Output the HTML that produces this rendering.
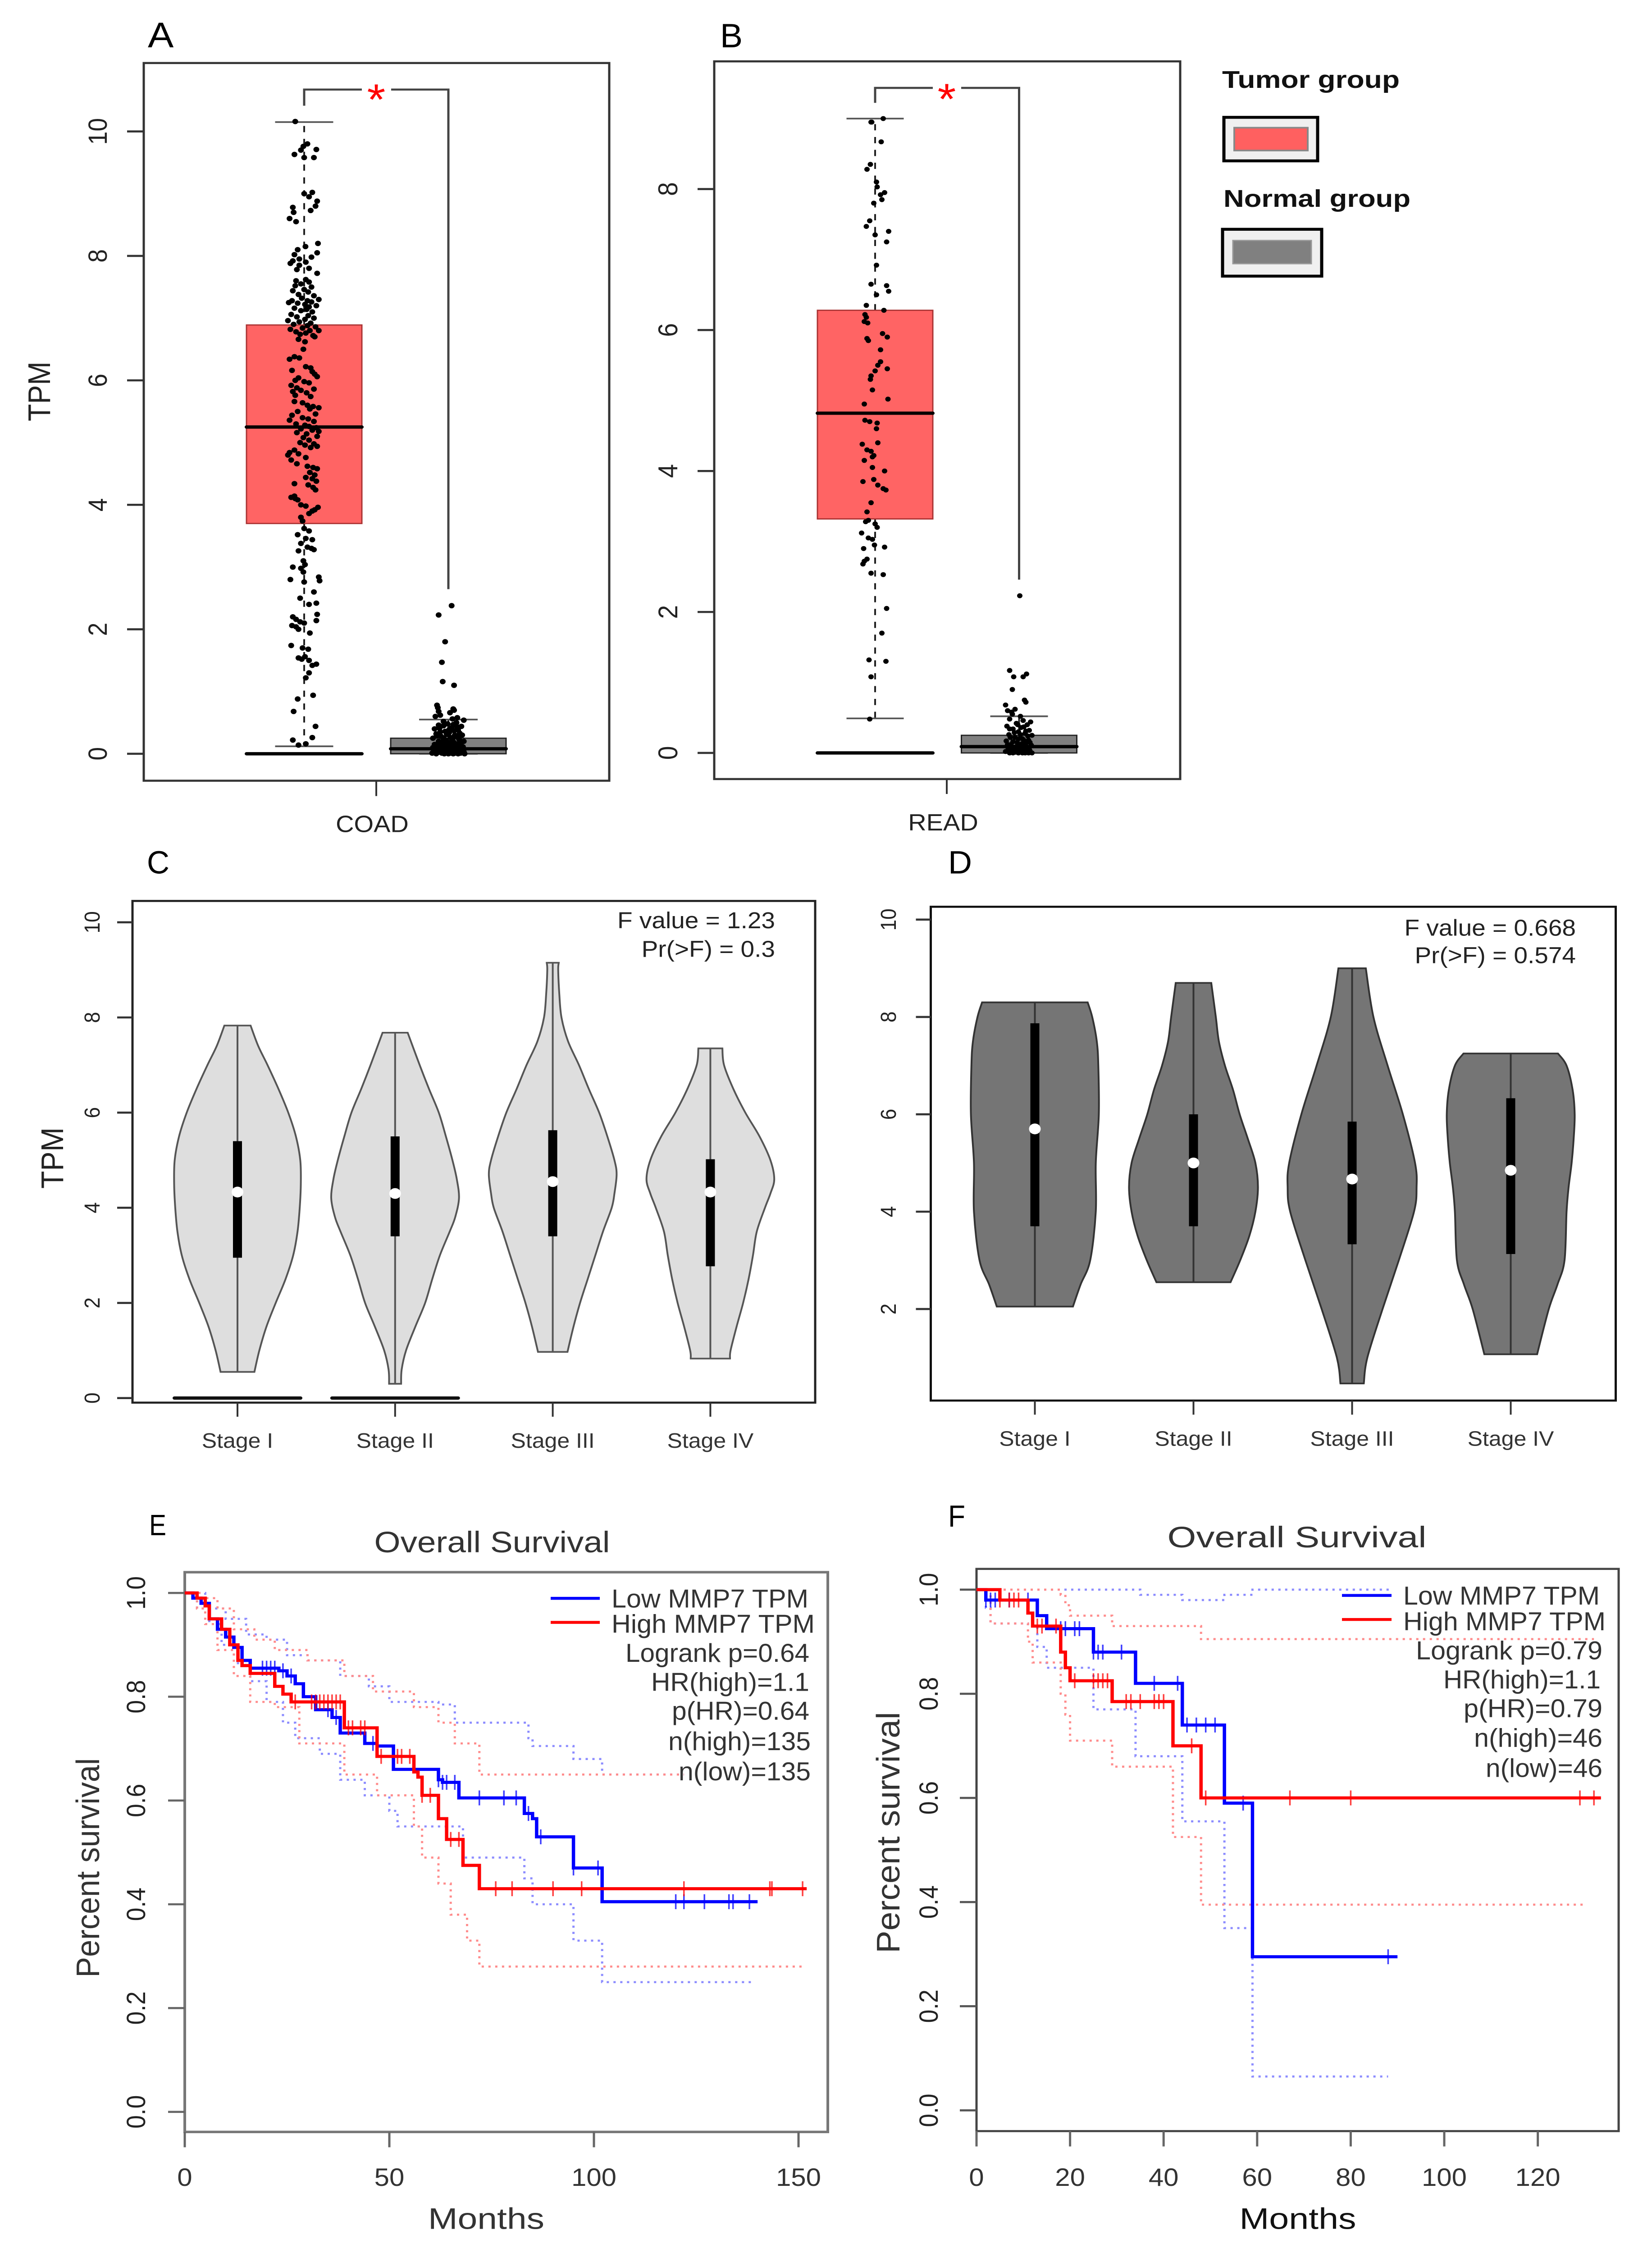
<!DOCTYPE html>
<html lang="en">
<head>
<meta charset="utf-8">
<title>MMP7 expression and survival figure</title>
<style>
html,body{margin:0;padding:0;background:#fff;width:100%;height:100%;overflow:hidden}
svg{display:block;width:100vw;height:100vh}
text{font-family:"Liberation Sans",Arial,sans-serif;fill:#222}
.tpm{font-size:70px}
.stage{font-size:50px;text-anchor:middle;fill:#333}
.fval{font-size:55px;text-anchor:end;fill:#222}
.leg{font-size:62px;fill:#333}
.letter{fill:#000}
.title{font-size:72px;fill:#333;text-anchor:middle}
.axt{font-size:72px;fill:#333;text-anchor:middle}
.group{font-size:58px;font-weight:bold;fill:#111}
</style>
</head>
<body>
<svg id="figure" viewBox="0 0 3666 5434" preserveAspectRatio="none">
<rect x="0" y="0" width="3666" height="5434" fill="#fff"/>

<!-- PANEL A -->
<g id="panel-a">
  <text class="letter" x="328" y="114" font-size="86">A</text>
  <rect x="319" y="152" width="1033" height="1731" fill="#fff" stroke="#333" stroke-width="5"/>
  <text class="tpm" transform="translate(111,944) rotate(-90)" text-anchor="middle" font-size="68" textLength="144" lengthAdjust="spacingAndGlyphs">TPM</text>
  <path d="M675 255V216H803" fill="none" stroke="#444" stroke-width="5"/>
  <path d="M868 216H995V1421" fill="none" stroke="#444" stroke-width="5"/>
  <text x="835" y="276" font-size="105" text-anchor="middle" style="fill:#ff0000">*</text>
  <line x1="835" y1="1883" x2="835" y2="1920" stroke="#333" stroke-width="4"/>
  <text x="826" y="2007" font-size="56" text-anchor="middle" style="fill:#222">COAD</text>
</g>

<!-- PANEL B -->
<g id="panel-b">
  <text class="letter" x="1598" y="114" font-size="82" textLength="50" lengthAdjust="spacingAndGlyphs">B</text>
  <rect x="1585" y="148" width="1034" height="1731" fill="#fff" stroke="#333" stroke-width="5"/>
  <path d="M1942 248V212H2070" fill="none" stroke="#444" stroke-width="5"/>
  <path d="M2133 212H2261.500V1398" fill="none" stroke="#444" stroke-width="5"/>
  <text x="2101" y="275" font-size="105" text-anchor="middle" style="fill:#ff0000">*</text>
  <line x1="2101" y1="1879" x2="2101" y2="1915" stroke="#333" stroke-width="4"/>
  <text x="2093" y="2003" font-size="56" text-anchor="middle" style="fill:#222">READ</text>
</g>

<!-- GROUP LEGEND -->
<g id="group-legend">
  <text class="group" x="2712" y="212" textLength="394" lengthAdjust="spacingAndGlyphs">Tumor group</text>
  <rect x="2716" y="283" width="208" height="105" fill="#f0f0f0" stroke="#000" stroke-width="7"/>
  <rect x="2739" y="308" width="163" height="55" fill="#ff6060" stroke="#888" stroke-width="4"/>
  <text class="group" x="2715" y="499" textLength="415" lengthAdjust="spacingAndGlyphs">Normal group</text>
  <rect x="2713" y="553" width="220" height="113" fill="#f0f0f0" stroke="#000" stroke-width="7"/>
  <rect x="2736" y="580" width="174" height="56" fill="#808080" stroke="#999" stroke-width="3"/>
</g>

<!-- PANEL C -->
<g id="panel-c">
  <text class="letter" x="326" y="2107" font-size="78" textLength="50" lengthAdjust="spacingAndGlyphs">C</text>
  <rect x="294" y="2173" width="1515" height="1210" fill="#fff" stroke="#222" stroke-width="5"/>
  <text class="tpm" transform="translate(140,2793) rotate(-90)" text-anchor="middle" textLength="148" lengthAdjust="spacingAndGlyphs">TPM</text>
  <text class="fval" x="1720" y="2239">F value = 1.23</text>
  <text class="fval" x="1720" y="2308">Pr(&gt;F) = 0.3</text>
</g>

<!-- PANEL D -->
<g id="panel-d">
  <text class="letter" x="2104" y="2107" font-size="78" textLength="53" lengthAdjust="spacingAndGlyphs">D</text>
  <rect x="2065.500" y="2187" width="1520" height="1191" fill="#fff" stroke="#111" stroke-width="5"/>
  <text class="fval" x="3497" y="2257">F value = 0.668</text>
  <text class="fval" x="3497" y="2323">Pr(&gt;F) = 0.574</text>
</g>

<!-- PANEL E -->
<g id="panel-e">
  <text class="letter" x="331" y="3703" font-size="71" textLength="38" lengthAdjust="spacingAndGlyphs">E</text>
  <text class="title" x="1092" y="3744" textLength="523" lengthAdjust="spacingAndGlyphs">Overall Survival</text>
  <rect x="410" y="3792" width="1427" height="1350" fill="#fff" stroke="#777" stroke-width="6"/>
  <text class="axt" transform="translate(220,4505) rotate(-90)" textLength="529" lengthAdjust="spacingAndGlyphs">Percent survival</text>
  <text class="axt" x="1079" y="5376" textLength="258" lengthAdjust="spacingAndGlyphs">Months</text>
</g>

<!-- PANEL F -->
<g id="panel-f">
  <text class="letter" x="2104" y="3682" font-size="74" textLength="38" lengthAdjust="spacingAndGlyphs">F</text>
  <text class="title" x="2878" y="3732" font-size="78" textLength="575" lengthAdjust="spacingAndGlyphs">Overall Survival</text>
  <rect x="2167" y="3784" width="1425" height="1356" fill="#fff" stroke="#444" stroke-width="5"/>
  <text class="axt" transform="translate(1996,4420) rotate(-90)" textLength="582" lengthAdjust="spacingAndGlyphs">Percent survival</text>
  <text class="axt" x="2880" y="5376" textLength="259" lengthAdjust="spacingAndGlyphs" style="fill:#111">Months</text>
</g>

<!-- SURVIVAL LEGENDS drawn on top -->
<g id="legend-e">
  <line x1="1222" y1="3855" x2="1331" y2="3855" stroke="#0000ff" stroke-width="7"/>
  <line x1="1222" y1="3913" x2="1331" y2="3913" stroke="#ff0000" stroke-width="7"/>
  <text class="leg" x="1357" y="3877" textLength="437" lengthAdjust="spacingAndGlyphs">Low MMP7 TPM</text>
  <text class="leg" x="1357" y="3938" textLength="451" lengthAdjust="spacingAndGlyphs">High MMP7 TPM</text>
  <text class="leg" x="1388" y="4008" textLength="408" lengthAdjust="spacingAndGlyphs">Logrank p=0.64</text>
  <text class="leg" x="1445" y="4078" textLength="351" lengthAdjust="spacingAndGlyphs">HR(high)=1.1</text>
  <text class="leg" x="1491" y="4148" textLength="305" lengthAdjust="spacingAndGlyphs">p(HR)=0.64</text>
  <text class="leg" x="1483" y="4221" textLength="316" lengthAdjust="spacingAndGlyphs">n(high)=135</text>
  <text class="leg" x="1506" y="4294" textLength="293" lengthAdjust="spacingAndGlyphs">n(low)=135</text>
</g>
<g id="legend-f">
  <line x1="2978" y1="3848" x2="3088" y2="3848" stroke="#0000ff" stroke-width="7"/>
  <line x1="2978" y1="3906" x2="3088" y2="3906" stroke="#ff0000" stroke-width="7"/>
  <text class="leg" x="3114" y="3870" textLength="436" lengthAdjust="spacingAndGlyphs">Low MMP7 TPM</text>
  <text class="leg" x="3114" y="3932" textLength="449" lengthAdjust="spacingAndGlyphs">High MMP7 TPM</text>
  <text class="leg" x="3142" y="4002" textLength="414" lengthAdjust="spacingAndGlyphs">Logrank p=0.79</text>
  <text class="leg" x="3203" y="4072" textLength="349" lengthAdjust="spacingAndGlyphs">HR(high)=1.1</text>
  <text class="leg" x="3248" y="4142" textLength="308" lengthAdjust="spacingAndGlyphs">p(HR)=0.79</text>
  <text class="leg" x="3271" y="4213" textLength="285" lengthAdjust="spacingAndGlyphs">n(high)=46</text>
  <text class="leg" x="3297" y="4286" textLength="259" lengthAdjust="spacingAndGlyphs">n(low)=46</text>
</g>
</svg>

<script>
/* ---------- BOX PLOT DATA: [low, q1, median, q3, high] ---------- */
const coadTumorStats = [0.12, 3.7, 5.25, 6.89, 10.15];
const coadNormalStats = [0, 0, 0.08, 0.25, 0.55];
const readTumorStats = [0.49, 3.32, 4.82, 6.28, 9.0];
const readNormalStats = [0, 0, 0.09, 0.25, 0.52];
const zeroStats = [0, 0, 0, 0, 0];
const aTicks = [0, 2, 4, 6, 8, 10];
const bTicks = [0, 2, 4, 6, 8];

/* [value, horizontal jitter -1..1] */
const coadTumorPoints = [[10.16,-.55],[9.8,.2],[9.76,-.05],[9.71,.75],[9.7,-.2],[9.63,-.6],[9.58,0],[9.58,.6],[9.02,.5],[9,0],[8.95,.3],[8.88,.8],[8.8,.7],[8.78,-.7],[8.73,.4],[8.7,-.65],[8.6,-.9],[8.55,-.5],
[8.2,.85],[8.15,.08],[8.1,-.4],[8.05,.8],[8.02,-.6],[7.98,.45],[7.95,-.3],[7.92,-.7],[7.9,.1],[7.88,-.85],[7.85,-.3],[7.8,.3],[7.78,-.45],[7.72,.8],[7.62,.1],[7.6,-.5],[7.58,.3],[7.55,-.2],[7.52,-.55],[7.5,.45],[7.46,0],[7.44,-.7],[7.42,.25],[7.38,-.35],[7.36,.6],
[7.32,-.15],[7.3,.9],[7.28,.2],[7.28,-.75],[7.26,.45],[7.25,-.95],[7.24,-.4],[7.22,.05],[7.2,.75],[7.18,.3],[7.16,-.6],[7.14,.15],[7.12,-.2],[7.1,.5],[7.06,-.8],[7.04,.25],[7.02,-.45],[7,.6],[6.98,.05],[6.96,-1],[6.94,-.3],[6.92,.4],[6.9,-.65],[6.88,.2],[6.86,.7],[6.84,-.1],[6.82,-.85],[6.8,.35],[6.8,.9],[6.78,-.5],[6.76,.1],[6.74,-.25],[6.72,.55],[6.7,.65],[6.66,-.35],[6.62,.05],
[6.5,-.05],[6.38,-.6],[6.36,-.3],[6.34,-.9],[6.22,.1],[6.2,.4],[6.16,-.75],[6.14,.5],[6.1,.65],[6.06,.8],[6.04,-.35],[6,-.55],[5.98,0],[5.96,.3],[5.92,-.8],[5.88,-.45],[5.86,.6],[5.84,-.2],[5.82,-.7],[5.8,.15],[5.76,-.55],[5.74,.4],[5.66,-.6],[5.64,-.1],[5.6,.2],[5.58,.55],[5.56,.9],[5.54,.35],[5.5,-.4],[5.46,.7],[5.44,-.75],[5.4,-.1],[5.38,.25],[5.36,-.9],[5.34,.6],[5.3,-.5],[5.28,.05],[5.26,.3],[5.24,.75],[5.22,-.2],[5.2,.5],[5.18,.9],[5.16,-.45],[5.14,.15],[5.1,.8],[5.08,-.05],[5.04,.3],[5,-.25],[4.98,.6],[4.96,.05],[4.94,.8],[4.92,.4],[4.88,-.6],[4.84,-.9],[4.82,-.35],[4.8,-1],[4.76,.1],[4.72,-.8],[4.66,-.45],[4.62,.2],[4.6,.55],[4.58,.8],[4.52,.35],[4.48,.65],[4.44,.1],[4.42,.5],[4.38,.75],[4.34,-.6],[4.32,.25],[4.28,.55],[4.24,.7],[4.14,-.6],[4.12,-.8],[4.1,-.55],[4.08,-.4],[4,-.2],[3.98,.1],[3.96,.85],[3.92,.65],[3.9,.5],[3.86,.3],[3.8,-.2],[3.74,-.1],
[3.62,0],[3.58,.3],[3.52,-.4],[3.46,.1],[3.44,.5],[3.38,-.2],[3.32,.2],[3.3,.45],[3.28,.6],[3.26,-.35],[3.1,-.05],[3.04,.05],[3,-.7],[2.98,-.2],[2.92,-.05],[2.84,.9],[2.8,-.85],[2.78,.95],[2.76,0],[2.6,.6],[2.5,-.25],[2.42,.75],[2.4,.3],[2.24,.8],[2.2,-.7],[2.16,-.5],[2.14,.75],[2.12,-.25],[2.1,0],[2.06,-.75],[2.04,-.5],[2,-.35],[1.94,.35],[1.74,-.8],[1.7,-.1],[1.68,.25],[1.56,.05],[1.54,-.35],[1.52,-.15],[1.5,.3],[1.44,.75],[1.42,.5],[1.3,.3],[1.22,.1],[.94,.55],[.88,-.4],[.68,-.65],[.44,.7],[.26,.5],[.22,-.7],[.16,.1],[.14,-.35]];

const coadNormalPoints = [[2.38,.2],[2.23,-.6],[1.8,-.2],[1.47,-.4],[1.16,-.35],[1.1,.35],[.78,-.7],[.74,-.65],[.72,.3],[.7,.35],[.68,-.6],[.66,.1],[.62,-.5],[.6,-.8],[.58,.55],[.56,.25],[.54,.95],[.52,-.3],[.5,.5],[.48,-.05],[.46,-.6],[.44,.8],[.42,.2],[.4,-.85],[.38,.6],[.36,-.2],[.34,.05],[.32,-.75],[.3,.4],[.3,.85],[.28,-.45],[.26,.15],[.25,-.95],[.24,.65],[.22,-.15],[.2,.95],[.2,-.6],[.18,.35],[.17,-.3],[.16,.75],[.15,-.85],[.14,.05],[.13,.5],[.12,-.5],[.11,.9],[.1,-.1],[.1,-.95],[.09,.3],[.08,.65],[.07,-.7],[.07,.1],[.06,-.3],[.05,.85],[.05,.45],[.04,-.55],[.04,-.9],[.03,.2],[.03,.7],[.02,-.2],[.02,-.65],[.02,.95],[.01,.4],[.01,-.4],[.01,-1],[0,0],[0,.6],[0,-.75],[0,.3],[0,1],[0,-.25],
[.47,.3],[.45,-.3],[.43,.55],[.41,-.55],[.39,.05],[.37,.35],[.35,-.5],[.33,.7],[.31,-.1],[.29,-.7],[.27,.55],[.25,-.3],[.23,.25],[.21,.7],[.19,-.45],[.18,.05],[.16,-.15],[.15,.55],[.14,-.6],[.13,.8],[.12,.2],[.11,-.3],[.1,.45],[.09,-.8],[.08,-.05],[.08,.85],[.07,.4],[.06,-.55],[.06,.15],[.05,-.25],[.05,-.75],[.04,.55],[.04,.1],[.03,-.4],[.03,.95],[.02,.35],[.02,-.05],[.01,-.75],[.01,.75],[.01,.15]];

const readTumorPoints = [[9,.6],[8.95,-.3],[8.95,-.25],[8.67,.45],[8.35,-.35],[8.28,-.6],[8.1,.1],[8.03,.15],[7.95,.7],[7.92,.4],[7.85,.5],[7.8,-.1],[7.55,-.4],[7.47,-.65],[7.4,1],[7.35,0],[7.25,.85],[6.92,.1],[6.65,-.3],[6.63,.85],[6.55,1],[6.5,.1],[6.35,-.65],[6.28,.65],[6.22,-.75],[6.18,-.65],[6.12,-.8],[6.1,-.55],[5.95,.55],[5.9,.9],[5.88,-.6],[5.85,-.5],[5.72,.4],[5.55,.4],[5.5,.2],[5.45,.9],[5.42,0],[5.35,-.3],[5.3,-.35],[5.15,-.2],[5.02,.95],[4.95,-.8],[4.72,-.75],[4.7,-.4],[4.68,.15],[4.6,.1],[4.4,.2],[4.38,-.95],[4.3,-.6],[4.28,-.3],[4.22,-.1],[4.2,-.2],[4.15,-.8],[4.05,-.2],[4,.7],[3.88,-.1],[3.85,-.9],[3.8,.2],[3.75,.6],[3.73,.8],[3.55,-.3],[3.42,-.6],[3.3,-.5],[3.28,-.7],[3.25,0],[3.2,.15],[3.12,-1],[3.05,-.5],[3.03,-.2],[2.95,-.05],[2.92,.7],[2.9,-.85],[2.75,-.6],[2.72,-.8],[2.68,-.9],[2.55,-.3],[2.53,.6],[2.05,.85],[1.7,.5],[1.32,-.45],[1.3,.8],[1.08,-.3],[.48,-.4]];

const readNormalPoints = [[2.23,.05],[1.17,-.7],[1.12,.55],[1.08,-.4],[1.08,.3],[.9,-.5],[.75,.4],[.72,.5],[.68,-1],[.62,-.3],[.6,-.85],[.58,-.55],[.55,-.5],[.52,.1],[.48,-.7],[.46,.3],[.44,.85],[.42,-.2],[.4,.6],[.38,-.9],[.36,.15],[.34,-.45],[.32,.75],[.3,-.05],[.28,.45],[.26,-.75],[.25,.95],[.22,-.3],[.2,.25],[.18,.7],[.17,-.95],[.15,-.15],[.14,.5],[.12,-.6],[.11,.9],[.1,.05],[.08,-.35],[.07,.65],[.06,-.8],[.05,.3],[.04,-.1],[.03,.8],[.03,-.55],[.02,.15],[.02,-1],[.01,.5],[.01,-.25],[0,.95],[0,-.7],[0,.25],[0,-.05],[0,.7],
[.4,-.1],[.37,.35],[.34,-.7],[.31,.5],[.29,-.35],[.26,.1],[.24,.65],[.22,-.65],[.2,-.05],[.18,.35],[.16,-.45],[.15,.8],[.13,.2],[.12,-.85],[.1,.5],[.09,-.2],[.07,-.6],[.06,.1],[.05,.75],[.04,-.35],[.03,.4],[.02,-.8],[.01,.1],[.01,.8],[0,-.45],[0,.45]];

/* ---------- VIOLIN DATA: [TPM, density half width] ---------- */
const stageLabels = ['Stage I', 'Stage II', 'Stage III', 'Stage IV'];
const cTicks = [0, 2, 4, 6, 8, 10];
const dTicks = [2, 4, 6, 8, 10];
const cZeroStages = [0, 1];
const cStage1 = [[7.83,24],[7.4,38],[7,55],[6.5,75],[6,93],[5.5,107],[5,115],[4.5,116],[4,114],[3.5,110],[3,102],[2.5,88],[2,70],[1.5,53],[1,40],[.55,31]];
const cStage2 = [[7.68,23],[7,45],[6.5,62],[6,80],[5.5,93],[5,105],[4.6,113],[4.2,117],[3.8,110],[3.5,100],[3,82],[2.5,68],[2,55],[1.5,37],[1,20],[.6,12],[.3,11]];
const cStage3 = [[9.15,11],[9,10],[8.5,12],[8,16],[7.5,28],[7,48],[6.5,66],[6,85],[5.5,100],[5,113],[4.7,117],[4.3,113],[4,108],[3.5,92],[3,78],[2.5,64],[2,50],[1.5,38],[.97,27]];
const cStage4 = [[7.35,22],[7,25],[6.5,42],[6,64],[5.5,90],[5,110],[4.6,117],[4.3,110],[4,100],[3.5,85],[3,78],[2.5,70],[2,60],[1.5,48],[1,37],[.83,36]];
const cBoxes = [[2.95,4.33,5.4],[3.4,4.3,5.5],[3.4,4.55,5.63],[2.77,4.33,5.02]];
const dStage1 = [[8.3,104],[8,113],[7.5,122],[7,125],[6,126],[5,120],[4,120],[3,109],[2.5,90],[2.05,75]];
const dStage2 = [[8.7,35],[8,44],[7.5,50],[7,62],[6.5,78],[6,91],[5.5,107],[5,122],[4.5,127],[4,122],[3.5,110],[3,92],[2.55,73]];
const dStage3 = [[9,27],[8,42],[7,70],[6,100],[5,124],[4.5,127],[4,122],[3,92],[2,60],[1,30],[.47,23]];
const dStage4 = [[7.25,93],[7,110],[6.5,122],[6,126],[5.5,124],[5,120],[4.5,114],[4,110],[3,106],[2.5,92],[2,75],[1.07,52]];
const dBoxes = [[3.7,5.7,7.87],[3.7,5,6],[3.33,4.67,5.85],[3.13,4.85,6.33]];

/* ---------- SURVIVAL DATA: [month, survival] step points ---------- */
const survTicks = [0, 0.2, 0.4, 0.6, 0.8, 1];
const eMonthTicks = [0, 50, 100, 150];
const fMonthTicks = [0, 20, 40, 60, 80, 100, 120];
const eLow = [[0,1],[2,.99],[4,.98],[6,.95],[8,.93],[10,.915],[12,.895],[14,.87],[16,.855],[23,.85],[25,.84],[27,.825],[29,.8],[32,.775],[36,.76],[38,.73],[44,.71],[47,.705],[51,.66],[62,.64],[63,.635],[67,.605],[83,.575],[85,.565],[86,.53],[95,.47],[102,.405],[140,.405]];
const eHigh = [[0,1],[3,.99],[5,.975],[6,.95],[9,.93],[11,.9],[13,.87],[14,.86],[16,.845],[22,.82],[24,.805],[26,.79],[39,.74],[47,.685],[56,.655],[57,.645],[58,.61],[62,.565],[64,.525],[68,.475],[72,.43],[152,.43]];
const eLowCensor = [19,20,21,22,24,26,35,37,46,47,62,63,64,66,72,78,81,84,87,95,101,120,122,127,133,134,138];
const eHighCensor = [27,31,32,33,34,35,36,37,38,40,41,43,44,48,52,53,55,58,60,65,67,76,80,90,97,122,143,143.5,151];
const eLowUpper = [[0,1],[5,.97],[10,.95],[15,.92],[20,.91],[25,.88],[30,.87],[38,.84],[45,.82],[50,.79],[62,.785],[66,.75],[84,.72],[85,.705],[95,.68],[102,.65],[122,.65]];
const eLowLower = [[0,1],[3,.97],[6,.94],[9,.9],[13,.86],[16,.83],[20,.79],[24,.75],[27,.72],[33,.69],[38,.64],[44,.61],[50,.58],[52,.55],[62,.55],[68,.49],[83,.45],[85,.4],[95,.33],[102,.25],[139,.25]];
const eHighUpper = [[0,1],[4,.99],[8,.97],[12,.93],[17,.91],[22,.89],[30,.87],[39,.84],[46,.81],[56,.78],[62,.75],[66,.71],[72,.65],[122,.65]];
const eHighLower = [[0,1],[3,.97],[5,.94],[8,.89],[12,.84],[16,.79],[22,.78],[28,.71],[39,.65],[47,.61],[56,.55],[58,.49],[62,.44],[65,.38],[69,.33],[72,.28],[151,.28]];

const fLow = [[0,1],[2,.98],[13,.95],[15,.925],[25,.88],[34,.82],[44,.74],[53,.59],[59,.295],[90,.295]];
const fHigh = [[0,1],[5,.98],[11,.955],[12,.93],[18,.88],[19,.85],[20,.825],[29,.785],[42,.7],[48,.6],[133.5,.6]];
const fLowCensor = [2,3,4,7,11,18,19,21,22,25,26,27,31,38,43,45,47,49,51,57,88];
const fHighCensor = [5,7,8,9,13,14,17,21,25,26,27,28,32,33,35,38,39,40,46,49,67,80,129,132];
const fLowUpper = [[0,1],[35,.99],[44,.98],[53,.99],[59,1],[89,1]];
const fLowLower = [[0,1],[2,.965],[3,.935],[11,.93],[13,.89],[15,.85],[25,.77],[34,.68],[44,.555],[53,.35],[59,.065],[88,.065]];
const fHighUpper = [[0,1],[18,.99],[19,.97],[20,.95],[29,.93],[48,.905],[132,.905]];
const fHighLower = [[0,1],[3,.935],[11,.9],[12,.86],[18,.8],[19,.76],[20,.71],[29,.66],[42,.525],[48,.395],[130,.395]];

/* ---------- AXIS FUNCTIONS ---------- */
const aY = v => 1818 - v * 150.1;
const bY = v => 1816 - v * 170;
const cY = v => 3372 - v * 114.75;
const dY = v => 3392 - v * 117.4;
const cX = i => 527 + i * 349.8;
const dX = i => 2296.5 + i * 352;
const eX = m => 410 + m * 9.08;
const eY = s => 5093.6 - s * 1251.6;
const fX = m => 2167 + m * 10.38;
const fY = s => 5090 - s * 1256;

const svgRoot = document.getElementById('figure');
const NS = svgRoot.namespaceURI;
function mk(tag, parent, attrs) {
  const el = document.createElementNS(NS, tag);
  for (const k in attrs) el.setAttribute(k, attrs[k]);
  parent.appendChild(el);
  return el;
}

/* rotated y ticks */
function yAxis(g, ticks, y, frameX, len, labelX, font, color, fmt) {
  ticks.forEach(t => {
    const tick = mk('line', g, {x1: frameX - len, x2: frameX, y1: y(t), y2: y(t), stroke: color, 'stroke-width': 5});
    
    
    const lab = mk('text', g, {transform: 'translate(' + labelX + ',' + y(t) + ') rotate(-90)', 'text-anchor': 'middle', 'font-size': font});
    lab.textContent = fmt ? fmt(t) : String(t);
    
    
  });
}

/* box + whiskers + jittered points */
function drawBox(g, y, cx, halfW, capHalf, stats, fill, stroke, dashed) {
  const [low, q1, med, q3, high] = stats;
  if (high > low) {
    [[q3, high], [q1, low]].forEach(pair => {
      const w = mk('line', g, {x1: cx, x2: cx, y1: y(pair[0]), y2: y(pair[1]), stroke: '#222', 'stroke-width': 4, 'stroke-dasharray': dashed ? '15 16' : 'none'});
      
      
    });
    [low, high].forEach(v => {
      const c = mk('line', g, {x1: cx - capHalf, x2: cx + capHalf, y1: y(v), y2: y(v), stroke: '#555', 'stroke-width': 4});
      
      
    });
  }
  if (q3 > q1) {
    const r = mk('rect', g, {x: cx - halfW, width: 2 * halfW, y: y(q3), height: y(q1) - y(q3), fill: fill, stroke: stroke, 'stroke-width': 3});
    
    
  }
  const m = mk('line', g, {x1: cx - halfW, x2: cx + halfW, y1: y(med), y2: y(med), stroke: '#000', 'stroke-width': 8, 'stroke-linecap': 'round'});
  
  
}
function drawPoints(g, y, cx, spread, r, pts) {
  pts.forEach(p => {
    const c = mk('circle', g, {cx: cx + p[1] * spread, cy: y(p[0]), r: r, fill: '#000'});
    
    
  });
}

const gA = document.getElementById('panel-a');
yAxis(gA, aTicks, aY, 319, 37, 237, 58, '#333');
drawBox(gA, aY, 675, 128, 64.5, coadTumorStats, '#ff6464', '#a33', true);
drawBox(gA, aY, 675, 128, 64.5, zeroStats, 'none', '#000', false);
drawBox(gA, aY, 995, 128, 65, coadNormalStats, '#808080', '#222', false);
drawPoints(gA, aY, 675, 36, 6.5, coadTumorPoints);
drawPoints(gA, aY, 995, 36, 6.5, coadNormalPoints);

const gB = document.getElementById('panel-b');
yAxis(gB, bTicks, bY, 1585, 37, 1503, 60, '#333');
drawBox(gB, bY, 1942, 128, 63.5, readTumorStats, '#ff6464', '#a33', true);
drawBox(gB, bY, 1942, 128, 63.5, zeroStats, 'none', '#000', false);
drawBox(gB, bY, 2261.5, 128, 64, readNormalStats, '#808080', '#222', false);
drawPoints(gB, bY, 1942, 30, 6, readTumorPoints);
drawPoints(gB, bY, 2261.5, 30, 6, readNormalPoints);

/* violins */
function sideCurve(pts) {
  let d = '';
  for (let i = 0; i < pts.length - 1; i++) {
    const p0 = pts[Math.max(i - 1, 0)], p1 = pts[i], p2 = pts[i + 1], p3 = pts[Math.min(i + 2, pts.length - 1)];
    const c1x = p1[0] + (p2[0] - p0[0]) / 6, c1y = p1[1] + (p2[1] - p0[1]) / 6;
    const c2x = p2[0] - (p3[0] - p1[0]) / 6, c2y = p2[1] - (p3[1] - p1[1]) / 6;
    d += 'C' + c1x + ' ' + c1y + ' ' + c2x + ' ' + c2y + ' ' + p2[0] + ' ' + p2[1];
  }
  return d;
}
function drawViolin(g, y, cx, dens, widthScale, fill, stroke, box) {
  const right = dens.map(p => [cx + p[1] * widthScale, y(p[0])]);
  const left = dens.map(p => [cx - p[1] * widthScale, y(p[0])]).reverse();
  const d = 'M' + right[0][0] + ' ' + right[0][1] + sideCurve(right) + 'L' + left[0][0] + ' ' + left[0][1] + sideCurve(left) + 'Z';
  const body = mk('path', g, {d: d, fill: fill, stroke: stroke, 'stroke-width': 4});
  
  
  const axis = mk('line', g, {x1: cx, x2: cx, y1: y(dens[0][0]), y2: y(dens[dens.length - 1][0]), stroke: stroke, 'stroke-width': 4});
  
  
  const iqr = mk('rect', g, {x: cx - 10, width: 20, y: y(box[2]), height: y(box[0]) - y(box[2]), fill: '#000'});
  
  
  const med = mk('circle', g, {cx: cx, cy: y(box[1]), r: 13, fill: '#fff'});
  
  
}
function stageAxis(g, x, frameBottom, baseline) {
  stageLabels.forEach((s, i) => {
    const t = mk('line', g, {x1: x(i), x2: x(i), y1: frameBottom, y2: frameBottom + 34, stroke: '#333', 'stroke-width': 4});
    
    
    const lab = mk('text', g, {x: x(i), y: baseline, class: 'stage'});
    lab.textContent = s;
    
    
  });
}

const gC = document.getElementById('panel-c');
yAxis(gC, cTicks, cY, 294, 34, 221, 48, '#333');
stageAxis(gC, cX, 3383, 3492);
[cStage1, cStage2, cStage3, cStage4].forEach((dens, i) => drawViolin(gC, cY, cX(i), dens, 1.2117, '#dedede', '#555', cBoxes[i]));
cZeroStages.forEach(i => {
  const z = mk('line', gC, {x1: cX(i) - 140, x2: cX(i) + 140, y1: cY(0), y2: cY(0), stroke: '#111', 'stroke-width': 8, 'stroke-linecap': 'round'});
  
  
});

const gD = document.getElementById('panel-d');
yAxis(gD, dTicks, dY, 2065.5, 33, 1988, 48, '#333');
stageAxis(gD, dX, 3378, 3487);
[dStage1, dStage2, dStage3, dStage4].forEach((dens, i) => drawViolin(gD, dY, dX(i), dens, 1.1263, '#757575', '#333', dBoxes[i]));

/* survival */
function stepPath(series, x, y) {
  let d = 'M' + x(series[0][0]) + ' ' + y(series[0][1]);
  for (let i = 1; i < series.length; i++) {
    d += 'H' + x(series[i][0]) + 'V' + y(series[i][1]);
  }
  return d;
}
function survAt(series, m) {
  let s = series[0][1];
  series.forEach(p => { if (p[0] <= m) s = p[1]; });
  return s;
}
function drawCI(g, series, x, y, color) {
  const p = mk('path', g, {d: stepPath(series, x, y), fill: 'none', stroke: color, 'stroke-width': 5, 'stroke-dasharray': '5 10'});
  
  
}
function drawSurvival(g, series, censor, x, y, color) {
  censor.forEach(m => {
    const s = survAt(series, m);
    const c = mk('line', g, {x1: x(m), x2: x(m), y1: y(s) - 18, y2: y(s) + 18, stroke: color, 'stroke-width': 3.5, opacity: 0.75});
    
    
  });
  const p = mk('path', g, {d: stepPath(series, x, y), fill: 'none', stroke: color, 'stroke-width': 7.5});
  
  
}
function monthAxis(g, ticks, x, bottom) {
  ticks.forEach(t => {
    const tick = mk('line', g, {x1: x(t), x2: x(t), y1: bottom, y2: bottom + 37, stroke: '#666', 'stroke-width': 5});
    
    
    const lab = mk('text', g, {x: x(t), y: 5272, 'text-anchor': 'middle', 'font-size': 60, style: 'fill:#333'});
    lab.textContent = String(t);
    
    
  });
}
const oneDecimal = v => v.toFixed(1);

const gE = document.getElementById('panel-e');
yAxis(gE, survTicks, eY, 410, 37, 322, 58, '#666', oneDecimal);
monthAxis(gE, eMonthTicks, eX, 5142);
drawCI(gE, eLowUpper, eX, eY, '#8c8cff');
drawCI(gE, eLowLower, eX, eY, '#8c8cff');
drawCI(gE, eHighUpper, eX, eY, '#ff8c8c');
drawCI(gE, eHighLower, eX, eY, '#ff8c8c');
drawSurvival(gE, eLow, eLowCensor, eX, eY, '#0000ff');
drawSurvival(gE, eHigh, eHighCensor, eX, eY, '#ff0000');

const gF = document.getElementById('panel-f');
yAxis(gF, survTicks, fY, 2167, 37, 2081, 58, '#555', oneDecimal);
monthAxis(gF, fMonthTicks, fX, 5140);
drawCI(gF, fLowUpper, fX, fY, '#8c8cff');
drawCI(gF, fLowLower, fX, fY, '#8c8cff');
drawCI(gF, fHighUpper, fX, fY, '#ff8c8c');
drawCI(gF, fHighLower, fX, fY, '#ff8c8c');
drawSurvival(gF, fLow, fLowCensor, fX, fY, '#0000ff');
drawSurvival(gF, fHigh, fHighCensor, fX, fY, '#ff0000');
</script>
</body>
</html>
